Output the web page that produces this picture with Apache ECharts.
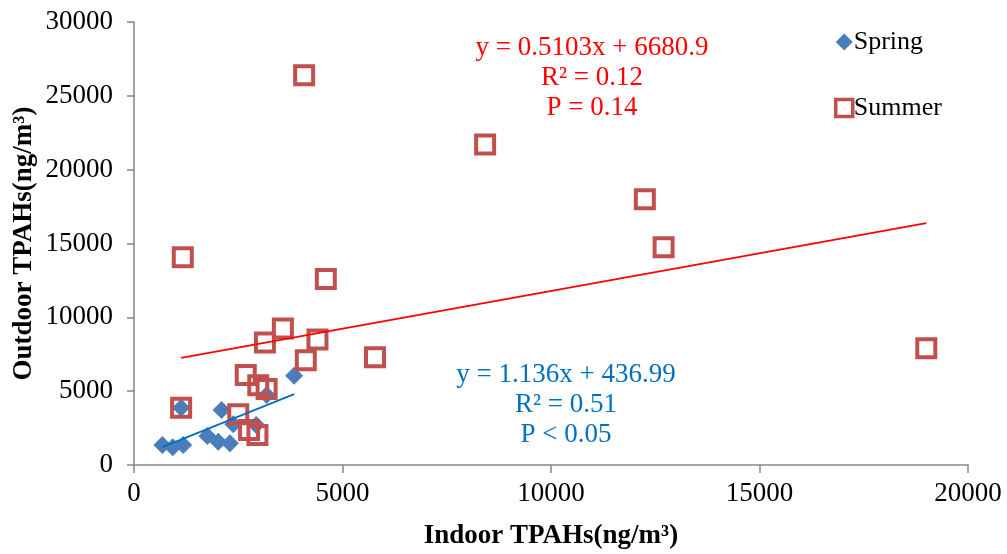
<!DOCTYPE html>
<html>
<head>
<meta charset="utf-8">
<script src="https://cdn.jsdelivr.net/npm/echarts@6/dist/echarts.min.js"></script>
<style>
  html, body { margin: 0; padding: 0; background: #fff; }
  #chart { width: 1007px; height: 554px; }
</style>
</head>
<body>
<div id="chart"></div>
<script>
// Indoor vs outdoor TPAHs (ng/m3), paired samples per season
const springIndoor  = [680, 930, 1180, 1130, 1760, 2020, 2300, 2100, 2380, 2930, 3180, 3840];
const springOutdoor = [1350, 1200, 1350, 3880, 1960, 1580, 1470, 3720, 2760, 2710, 4740, 6050];

const summerIndoor  = [4080, 8420, 12250, 12700, 1170, 4600, 3570, 4400, 3140, 19000, 5780, 4120, 2680, 2980, 3180, 1130, 2500, 2760, 2960];
const summerOutdoor = [26400, 21700, 18000, 14750, 14070, 12600, 9250, 8500, 8300, 7900, 7300, 7100, 6100, 5400, 5150, 3880, 3430, 2370, 2030];

// Linear fits (slope, intercept) as reported on the chart
const springFit = [1.136, 436.99];
const summerFit = [0.5103, 6680.9];

const xTicks = [0, 5000, 10000, 15000, 20000];
const yTicks = [0, 5000, 10000, 15000, 20000, 25000, 30000];

const springLabel = ['y = 1.136x + 436.99', 'R\u00B2 = 0.51', 'P < 0.05'];
const summerLabel = ['y = 0.5103x + 6680.9', 'R\u00B2 = 0.12', 'P = 0.14'];

const pair = (xs, ys) => xs.map((x, i) => [x, ys[i]]);
const fitLine = (xs, fit) => {
  const lo = Math.min(...xs), hi = Math.max(...xs);
  return [[lo, fit[0] * lo + fit[1]], [hi, fit[0] * hi + fit[1]]];
};

const FONT = '"Liberation Serif", "Times New Roman", serif';
const FS = 27;
const AXIS_COLOR = '#868686';
const SPRING_COLOR = '#4A7EBB';
const SUMMER_COLOR = '#C0504D';

const chart = echarts.init(document.getElementById('chart'), null, { renderer: 'canvas' });

chart.setOption({
  animation: false,
  backgroundColor: '#ffffff',
  grid: { left: 134, right: 39, top: 22, bottom: 89, containLabel: false, outerBoundsMode: 'none' },
  xAxis: {
    type: 'value', min: xTicks[0], max: xTicks[xTicks.length - 1], interval: 5000,
    name: 'Indoor TPAHs(ng/m\u00B3)', nameLocation: 'middle', nameGap: 58, nameMoveOverlap: false,
    nameTextStyle: { fontFamily: FONT, fontSize: FS, fontWeight: 'bold', color: '#000' },
    axisLine: { show: true, lineStyle: { color: AXIS_COLOR, width: 1.5 } },
    axisTick: { show: true, inside: false, length: 8, lineStyle: { color: AXIS_COLOR, width: 1.5 } },
    axisLabel: { fontFamily: FONT, fontSize: FS, color: '#000', margin: 15, formatter: v => String(v) },
    splitLine: { show: false }
  },
  yAxis: {
    type: 'value', min: yTicks[0], max: yTicks[yTicks.length - 1], interval: 5000,
    name: 'Outdoor TPAHs(ng/m\u00B3)', nameLocation: 'middle', nameGap: 96, nameRotate: 90, nameMoveOverlap: false,
    nameTextStyle: { fontFamily: FONT, fontSize: FS, fontWeight: 'bold', color: '#000' },
    axisLine: { show: true, lineStyle: { color: AXIS_COLOR, width: 1.5 } },
    axisTick: { show: true, inside: false, length: 7, lineStyle: { color: AXIS_COLOR, width: 1.5 } },
    axisLabel: { fontFamily: FONT, fontSize: FS, color: '#000', margin: 21, formatter: v => String(v) },
    splitLine: { show: false }
  },
  legend: {
    orient: 'vertical', left: 829, top: 24, itemGap: 40,
    itemWidth: 17, itemHeight: 17,
    textStyle: { fontFamily: FONT, fontSize: 26, color: '#000', padding: [0, 0, 0, -4] },
    data: [
      { name: 'Spring', icon: 'diamond' },
      { name: 'Summer', icon: 'rect', itemStyle: { color: '#fff', borderColor: SUMMER_COLOR, borderWidth: 3.5 } }
    ]
  },
  series: [
    {
      name: 'Spring', type: 'scatter', data: pair(springIndoor, springOutdoor),
      symbol: 'diamond', symbolSize: 18,
      itemStyle: { color: SPRING_COLOR, opacity: 1 }, z: 2
    },
    {
      name: 'Summer', type: 'scatter', data: pair(summerIndoor, summerOutdoor),
      symbol: 'rect', symbolSize: 18,
      itemStyle: { color: 'rgba(255,255,255,0)', borderColor: SUMMER_COLOR, borderWidth: 4, opacity: 1 }, z: 3
    },
    {
      name: 'Spring fit', type: 'line', data: fitLine(springIndoor, springFit),
      symbol: 'none', lineStyle: { color: '#0070C0', width: 1.8 }, z: 4, silent: true
    },
    {
      name: 'Summer fit', type: 'line', data: fitLine(summerIndoor, summerFit),
      symbol: 'none', lineStyle: { color: '#FF0000', width: 1.8 }, z: 4, silent: true
    }
  ],
  graphic: [
    ...summerLabel.map((t, i) => ({
      type: 'text', x: 592, y: 48 + i * 30,
      style: { text: t, fill: '#FF0000', font: FS + 'px ' + FONT, align: 'center', verticalAlign: 'middle' }
    })),
    ...springLabel.map((t, i) => ({
      type: 'text', x: 566, y: 375 + i * 30,
      style: { text: t, fill: '#0070C0', font: FS + 'px ' + FONT, align: 'center', verticalAlign: 'middle' }
    }))
  ]
});
</script>
</body>
</html>
